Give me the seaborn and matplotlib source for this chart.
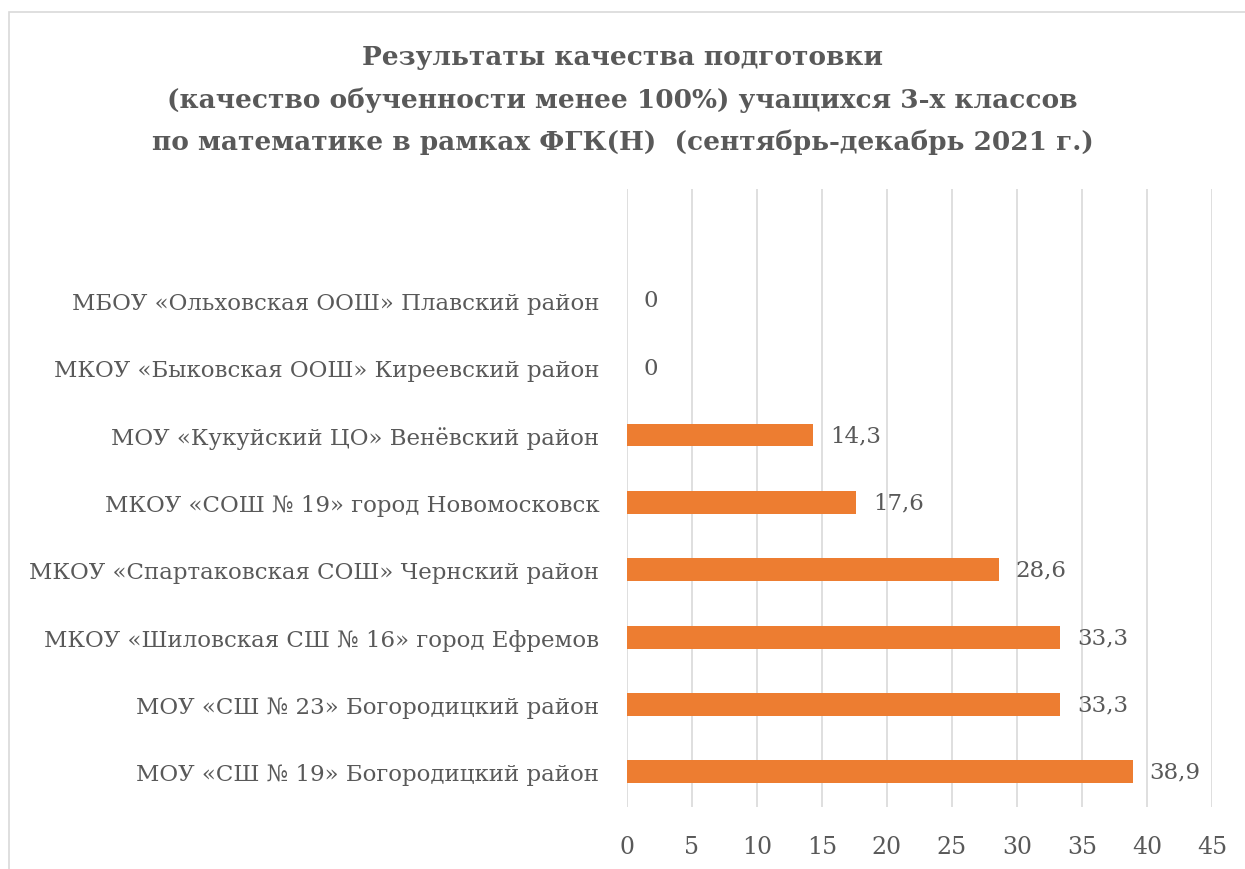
import matplotlib
matplotlib.use("Agg")
import matplotlib.pyplot as plt
import seaborn as sns
import pandas as pd
from matplotlib.patches import Rectangle

schools = [
    "МБОУ «Ольховская ООШ» Плавский район",
    "МКОУ «Быковская ООШ» Киреевский район",
    "МОУ «Кукуйский ЦО» Венёвский район",
    "МКОУ «СОШ № 19» город Новомосковск",
    "МКОУ «Спартаковская СОШ» Чернский район",
    "МКОУ «Шиловская СШ № 16» город Ефремов",
    "МОУ «СШ № 23» Богородицкий район",
    "МОУ «СШ № 19» Богородицкий район",
]
values = [0, 0, 14.3, 17.6, 28.6, 33.3, 33.3, 38.9]
x_ticks = [0, 5, 10, 15, 20, 25, 30, 35, 40, 45]

title = ("Результаты качества подготовки\n"
         "(качество обученности менее 100%) учащихся 3-х классов\n"
         "по математике в рамках ФГК(Н)  (сентябрь-декабрь 2021 г.)")

df = pd.DataFrame({"school": schools, "value": values})

sns.set_style("white")
plt.rcParams["font.family"] = ["DejaVu Serif", "DejaVu Sans"]
text_col = "#595959"
bar_col = "#ED7D31"

fig = plt.figure(figsize=(12.45, 8.7), dpi=100)
ax = fig.add_axes([0.5036, 0.0713, 0.4699, 0.7103])

sns.barplot(data=df, x="value", y="school", color=bar_col, width=0.34,
            saturation=1, ax=ax, orient="h", linewidth=0, edgecolor="none")

ax.set_xlim(0, 45)
ax.set_ylim(7.52, -1.65)
ax.set_xticks(x_ticks)
ax.set_xticklabels([str(t) for t in x_ticks])
ax.xaxis.grid(True, color="#d9d9d9", linewidth=1.2)
ax.yaxis.grid(False)
ax.set_axisbelow(True)
for s in ax.spines.values():
    s.set_visible(False)
ax.set_xlabel("")
ax.set_ylabel("")
ax.tick_params(axis="x", length=0, pad=20, labelsize=17, labelcolor=text_col)
ax.tick_params(axis="y", length=0, pad=20, labelsize=16.5, labelcolor=text_col)

for i, v in enumerate(values):
    ax.text(v + 1.3, i, f"{v:g}".replace(".", ","), va="center", ha="left",
            fontsize=16.5, color=text_col)

fig.text(0.5, 0.948, title, ha="center", va="top", fontsize=19,
         fontweight="bold", color=text_col, linespacing=1.82)

fig.patches.append(Rectangle((0.007, -0.01), 1.0, 0.995, transform=fig.transFigure,
                             fill=False, edgecolor="#d9d9d9", linewidth=1.2))

fig.savefig("out.png", dpi=100)
